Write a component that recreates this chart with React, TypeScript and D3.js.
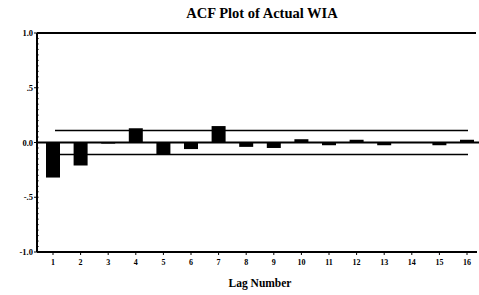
import React from 'react'
import * as d3 from 'd3'

const lags = [1, 2, 3, 4, 5, 6, 7, 8, 9, 10, 11, 12, 13, 14, 15, 16]
const acf = [-0.32, -0.21, -0.01, 0.13, -0.11, -0.06, 0.15, -0.04, -0.05, 0.03, -0.025, 0.025, -0.025, 0.003, -0.025, 0.025]
const yTicks = [1, 0.5, 0, -0.5, -1]
const yTickLabels = ['1.0', '.5', '0.0', '-.5', '-1.0']
const confLimit = 0.11

const width = 479
const height = 295
const font = 'Liberation Serif, Times New Roman, serif'

const App = () => {
  const x = d3.scaleLinear().domain([1, 16]).range([53, 467])
  const y = d3.scaleLinear().domain([-1, 1]).range([252, 33])
  const axisX = 37
  const barW = 14

  return (
    <svg width={width} height={height} style={{ position: 'absolute', left: 0, top: 0 }}>
      <rect width={width} height={height} fill="#fff" />
      <text x={262} y={18} textAnchor="middle" fontFamily={font} fontWeight="bold" fontSize={14.5}>
        ACF Plot of Actual WIA
      </text>

      {/* top frame line and y axis */}
      <line x1={axisX} x2={476} y1={y(1)} y2={y(1)} stroke="#000" strokeWidth={2} />
      <line x1={axisX} x2={axisX} y1={y(1)} y2={y(-1)} stroke="#000" strokeWidth={2} />
      <line x1={axisX} x2={477} y1={y(-1)} y2={y(-1)} stroke="#000" strokeWidth={2} />

      {/* minor ticks on y axis */}
      {d3.range(-1, 1.001, 0.05).map((v, i) => (
        <line key={i} x1={axisX} x2={axisX + 2} y1={y(v)} y2={y(v)} stroke="#000" strokeWidth={0.6} />
      ))}

      {yTicks.map((v, i) => (
        <g key={i}>
          <line x1={axisX - 3} x2={axisX} y1={y(v)} y2={y(v)} stroke="#000" strokeWidth={1} />
          <text x={axisX - 4} y={y(v) + 3} textAnchor="end" fontFamily={font} fontWeight="bold" fontSize={8.5}>
            {yTickLabels[i]}
          </text>
        </g>
      ))}

      {/* confidence limits */}
      <line x1={55} x2={468} y1={y(confLimit)} y2={y(confLimit)} stroke="#000" strokeWidth={1.5} />
      <line x1={55} x2={468} y1={y(-confLimit)} y2={y(-confLimit)} stroke="#000" strokeWidth={1.5} />

      {/* bars */}
      {lags.map((l, i) => (
        <rect
          key={l}
          x={x(l) - barW / 2}
          y={y(Math.max(0, acf[i]))}
          width={barW}
          height={Math.abs(y(acf[i]) - y(0))}
          fill="#000"
        />
      ))}

      {/* zero line */}
      <line x1={axisX} x2={479} y1={y(0)} y2={y(0)} stroke="#000" strokeWidth={2} />

      {/* x ticks */}
      {lags.map(l => (
        <g key={l}>
          <line x1={x(l)} x2={x(l)} y1={y(-1)} y2={y(-1) + 3} stroke="#000" strokeWidth={1} />
          <text x={x(l)} y={y(-1) + 13} textAnchor="middle" fontFamily={font} fontWeight="bold" fontSize={8}>
            {l}
          </text>
        </g>
      ))}

      <text x={260} y={287} textAnchor="middle" fontFamily={font} fontWeight="bold" fontSize={11.5}>
        Lag Number
      </text>
    </svg>
  )
}

export default App
